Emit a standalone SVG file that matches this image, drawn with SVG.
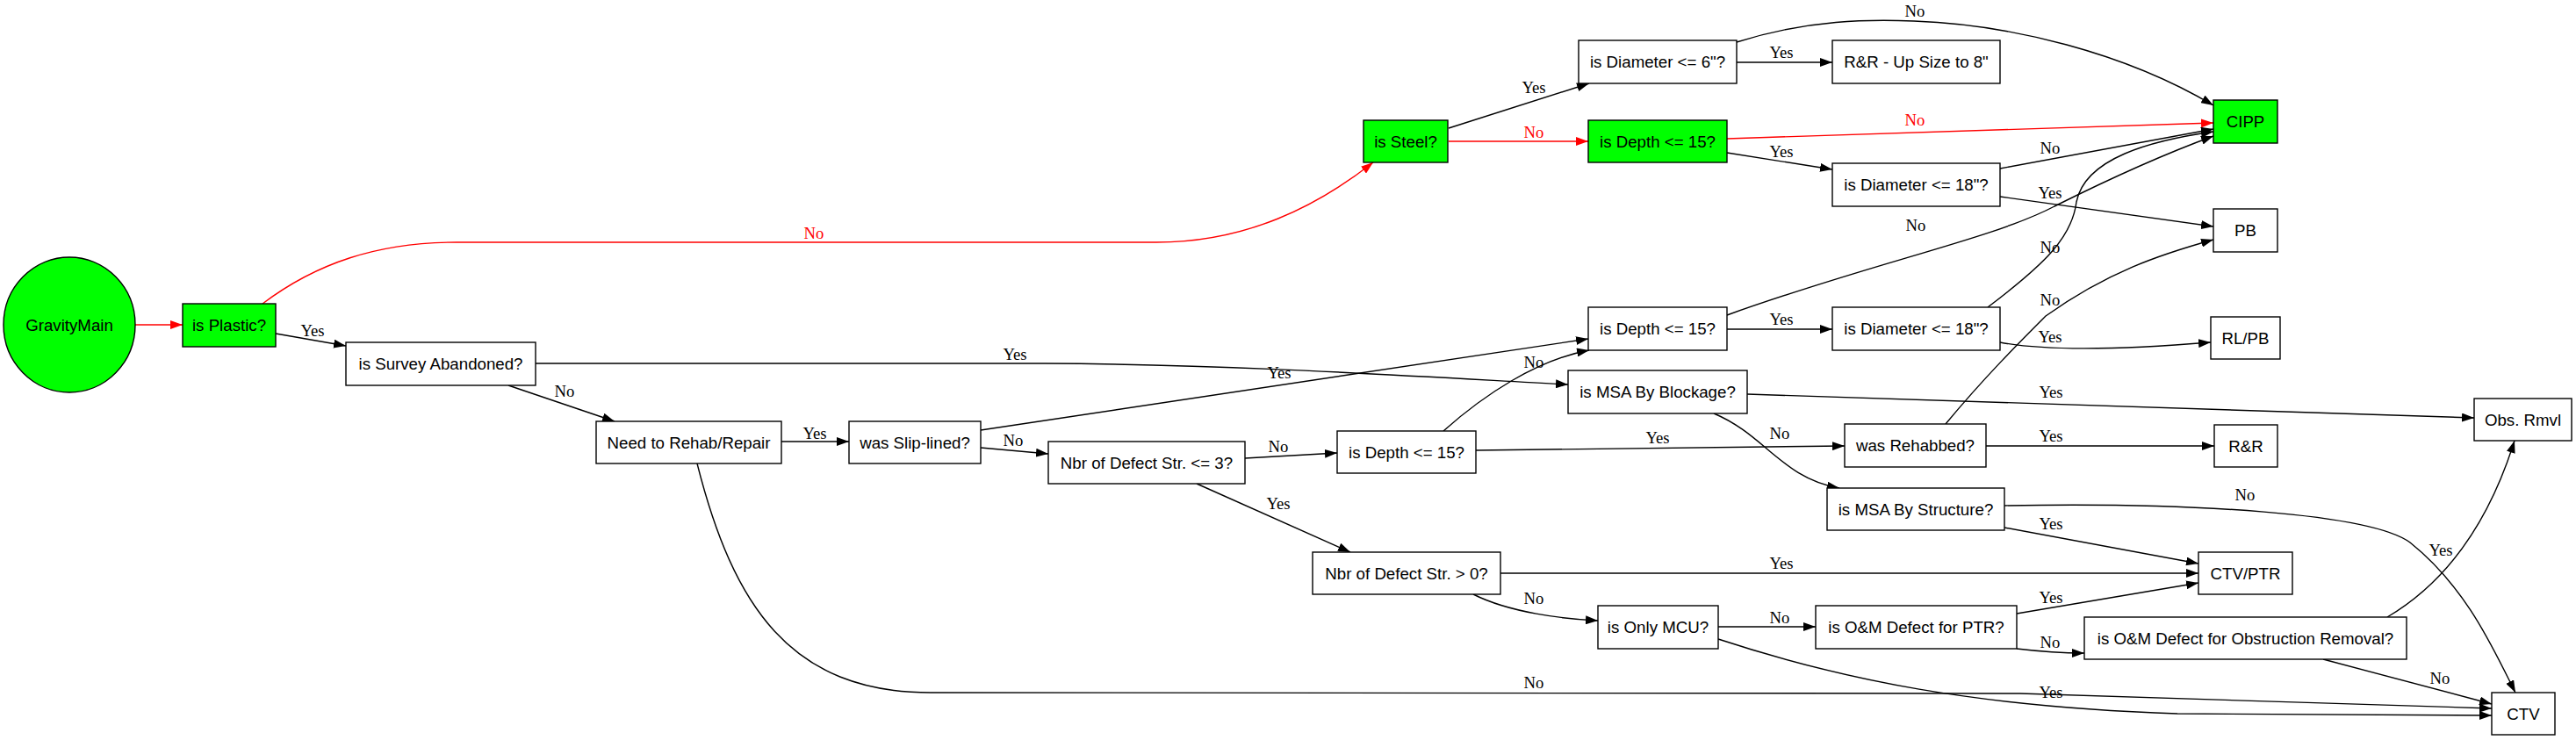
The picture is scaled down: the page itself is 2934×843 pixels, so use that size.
<svg xmlns="http://www.w3.org/2000/svg" width="2934" height="843" viewBox="0 0 2934 843">
<style>
.n rect,.n ellipse{fill:#fff;stroke:#000;stroke-width:1.4}
.g rect,.g ellipse{fill:#00ff00}
.n text{font-family:"Liberation Sans",Arial,sans-serif;font-size:18.7px;text-anchor:middle;fill:#000}
.e path{fill:none;stroke:#000;stroke-width:1.4}
.e path.r{stroke:#ff0000}
.e text{font-family:"Liberation Serif","Times New Roman",serif;font-size:18.7px;text-anchor:middle;fill:#000}
.e text.r{fill:#ff0000}
</style>
<defs>
<marker id="a" viewBox="0 0 14 10" refX="14" refY="5" markerWidth="14" markerHeight="10" markerUnits="userSpaceOnUse" orient="auto"><path d="M0,0 L14,5 L0,10 z" fill="#000"/></marker>
<marker id="ar" viewBox="0 0 14 10" refX="14" refY="5" markerWidth="14" markerHeight="10" markerUnits="userSpaceOnUse" orient="auto"><path d="M0,0 L14,5 L0,10 z" fill="#ff0000"/></marker>
</defs>
<rect width="2934" height="843" fill="#fff"/>
<g id="edges" class="e">
<path class="r" d="M154,370 L208,370" marker-end="url(#ar)"/>
<path class="r" d="M299,346 C360,300 430,276 520,276 L1317,276 C1420,276 1500,235 1564,185" marker-end="url(#ar)"/>
<text class="r" x="927" y="272">No</text>
<path d="M314,380 L394,394" marker-end="url(#a)"/>
<text x="356" y="383">Yes</text>
<path d="M579,439 L700,480" marker-end="url(#a)"/>
<text x="643" y="452">No</text>
<path d="M610,414 L1190,414 C1400,415 1600,428 1786,438" marker-end="url(#a)"/>
<text x="1156" y="410">Yes</text>
<path d="M890,503 L967,503" marker-end="url(#a)"/>
<text x="928" y="500">Yes</text>
<path d="M794,528 C835,690 900,789 1060,789 L2300,790 C2500,795 2700,803 2838,807" marker-end="url(#a)"/>
<text x="1747" y="784">No</text>
<path d="M1117,510 L1194,517" marker-end="url(#a)"/>
<text x="1154" y="508">No</text>
<path d="M1117,490 L1809,386" marker-end="url(#a)"/>
<text x="1457" y="431">Yes</text>
<path d="M1418,522 L1523,516" marker-end="url(#a)"/>
<text x="1456" y="515">No</text>
<path d="M1363,551 L1538,629" marker-end="url(#a)"/>
<text x="1456" y="580">Yes</text>
<path d="M1650,146 L1810,95" marker-end="url(#a)"/>
<text x="1747" y="106">Yes</text>
<path class="r" d="M1650,161 L1809,161" marker-end="url(#ar)"/>
<text class="r" x="1747" y="157">No</text>
<path d="M1978,71 L2087,71" marker-end="url(#a)"/>
<text x="2029" y="66">Yes</text>
<path d="M1978,48 C2060,22 2130,22 2180,24 C2290,28 2420,60 2521,120" marker-end="url(#a)"/>
<text x="2181" y="19">No</text>
<path class="r" d="M1967,158 L2521,140" marker-end="url(#ar)"/>
<text class="r" x="2181" y="143">No</text>
<path d="M1967,174 L2087,193" marker-end="url(#a)"/>
<text x="2029" y="179">Yes</text>
<path d="M2278,192 L2521,147" marker-end="url(#a)"/>
<text x="2335" y="175">No</text>
<path d="M2278,224 L2521,258" marker-end="url(#a)"/>
<text x="2335" y="226">Yes</text>
<path d="M1967,375 L2087,375" marker-end="url(#a)"/>
<text x="2029" y="370">Yes</text>
<path d="M1967,359 C2130,300 2270,272 2340,235 C2420,195 2480,170 2521,155" marker-end="url(#a)"/>
<text x="2182" y="263">No</text>
<path d="M1644,491 C1690,450 1750,410 1810,399" marker-end="url(#a)"/>
<text x="1747" y="419">No</text>
<path d="M1681,513 L2101,508" marker-end="url(#a)"/>
<text x="1888" y="505">Yes</text>
<path d="M2264,350 C2330,300 2360,270 2365,230 C2375,180 2450,160 2521,150" marker-end="url(#a)"/>
<text x="2335" y="288">No</text>
<path d="M2278,390 C2330,400 2420,398 2518,390" marker-end="url(#a)"/>
<text x="2335" y="390">Yes</text>
<path d="M1990,449 L2818,476" marker-end="url(#a)"/>
<text x="2336" y="453">Yes</text>
<path d="M1952,471 C2010,495 2030,545 2095,556" marker-end="url(#a)"/>
<text x="2027" y="500">No</text>
<path d="M2216,483 C2260,430 2300,390 2330,360 C2400,310 2460,290 2521,273" marker-end="url(#a)"/>
<text x="2335" y="348">No</text>
<path d="M2262,508 L2522,508" marker-end="url(#a)"/>
<text x="2336" y="503">Yes</text>
<path d="M2283,601 L2504,642" marker-end="url(#a)"/>
<text x="2336" y="603">Yes</text>
<path d="M2283,576 C2500,572 2700,585 2745,618 C2810,670 2840,740 2865,789" marker-end="url(#a)"/>
<text x="2557" y="570">No</text>
<path d="M1709,653 L2504,653" marker-end="url(#a)"/>
<text x="2029" y="648">Yes</text>
<path d="M1678,677 C1720,698 1780,705 1820,707" marker-end="url(#a)"/>
<text x="1747" y="688">No</text>
<path d="M1957,714 L2068,714" marker-end="url(#a)"/>
<text x="2027" y="710">No</text>
<path d="M1957,728 C2100,775 2250,805 2480,813 L2838,815" marker-end="url(#a)"/>
<text x="2336" y="795">Yes</text>
<path d="M2297,699 L2504,664" marker-end="url(#a)"/>
<text x="2336" y="687">Yes</text>
<path d="M2297,739 C2330,743 2350,744 2374,744" marker-end="url(#a)"/>
<text x="2335" y="738">No</text>
<path d="M2719,703 C2775,670 2830,610 2864,502" marker-end="url(#a)"/>
<text x="2780" y="633">Yes</text>
<path d="M2646,751 L2838,802" marker-end="url(#a)"/>
<text x="2779" y="779">No</text>
</g>
<g id="n_gravitymain" class="n g"><ellipse cx="79" cy="370" rx="75" ry="77"/><text x="79" y="376.5">GravityMain</text></g>
<g id="n_isplastic" class="n g"><rect x="208" y="346" width="106" height="49"/><text x="261" y="377">is Plastic?</text></g>
<g id="n_surveyabandoned" class="n"><rect x="394" y="390" width="216" height="49"/><text x="502" y="421">is Survey Abandoned?</text></g>
<g id="n_needrehab" class="n"><rect x="679" y="480" width="211" height="48"/><text x="784.5" y="510.5">Need to Rehab/Repair</text></g>
<g id="n_slipLined" class="n"><rect x="967" y="480" width="150" height="48"/><text x="1042" y="510.5">was Slip-lined?</text></g>
<g id="n_nbrle3" class="n"><rect x="1194" y="503" width="224" height="48"/><text x="1306" y="533.5">Nbr of Defect Str. &lt;= 3?</text></g>
<g id="n_issteel" class="n g"><rect x="1553" y="137" width="96" height="48"/><text x="1601" y="167.5">is Steel?</text></g>
<g id="n_diam6" class="n"><rect x="1798" y="46" width="180" height="49"/><text x="1888" y="77">is Diameter &lt;= 6"?</text></g>
<g id="n_rrupsize" class="n"><rect x="2087" y="46" width="191" height="49"/><text x="2182.5" y="77">R&amp;R - Up Size to 8"</text></g>
<g id="n_depth15a" class="n g"><rect x="1809" y="137" width="158" height="48"/><text x="1888" y="167.5">is Depth &lt;= 15?</text></g>
<g id="n_diam18a" class="n"><rect x="2087" y="186" width="191" height="49"/><text x="2182.5" y="217">is Diameter &lt;= 18"?</text></g>
<g id="n_cipp" class="n g"><rect x="2521" y="114" width="73" height="49"/><text x="2557.5" y="145">CIPP</text></g>
<g id="n_pb" class="n"><rect x="2521" y="238" width="73" height="49"/><text x="2557.5" y="269">PB</text></g>
<g id="n_rlpb" class="n"><rect x="2518" y="361" width="79" height="48"/><text x="2557.5" y="391.5">RL/PB</text></g>
<g id="n_depth15b" class="n"><rect x="1809" y="350" width="158" height="49"/><text x="1888" y="381">is Depth &lt;= 15?</text></g>
<g id="n_diam18b" class="n"><rect x="2087" y="350" width="191" height="49"/><text x="2182.5" y="381">is Diameter &lt;= 18"?</text></g>
<g id="n_msablockage" class="n"><rect x="1786" y="422" width="204" height="49"/><text x="1888" y="453">is MSA By Blockage?</text></g>
<g id="n_depth15c" class="n"><rect x="1523" y="491" width="158" height="48"/><text x="1602" y="521.5">is Depth &lt;= 15?</text></g>
<g id="n_rehabbed" class="n"><rect x="2101" y="483" width="161" height="49"/><text x="2181.5" y="514">was Rehabbed?</text></g>
<g id="n_msastructure" class="n"><rect x="2081" y="556" width="202" height="48"/><text x="2182" y="586.5">is MSA By Structure?</text></g>
<g id="n_rr" class="n"><rect x="2522" y="484" width="72" height="48"/><text x="2558" y="514.5">R&amp;R</text></g>
<g id="n_obsrmvl" class="n"><rect x="2818" y="454" width="111" height="48"/><text x="2873.5" y="484.5">Obs. Rmvl</text></g>
<g id="n_nbrgt0" class="n"><rect x="1495" y="629" width="214" height="48"/><text x="1602" y="659.5">Nbr of Defect Str. &gt; 0?</text></g>
<g id="n_ctvptr" class="n"><rect x="2504" y="629" width="107" height="48"/><text x="2557.5" y="659.5">CTV/PTR</text></g>
<g id="n_onlymcu" class="n"><rect x="1820" y="690" width="137" height="49"/><text x="1888.5" y="721">is Only MCU?</text></g>
<g id="n_omptr" class="n"><rect x="2068" y="690" width="229" height="49"/><text x="2182.5" y="721">is O&amp;M Defect for PTR?</text></g>
<g id="n_omobs" class="n"><rect x="2374" y="703" width="367" height="48"/><text x="2557.5" y="733.5">is O&amp;M Defect for Obstruction Removal?</text></g>
<g id="n_ctv" class="n"><rect x="2838" y="789" width="72" height="48"/><text x="2874" y="819.5">CTV</text></g>
</svg>
